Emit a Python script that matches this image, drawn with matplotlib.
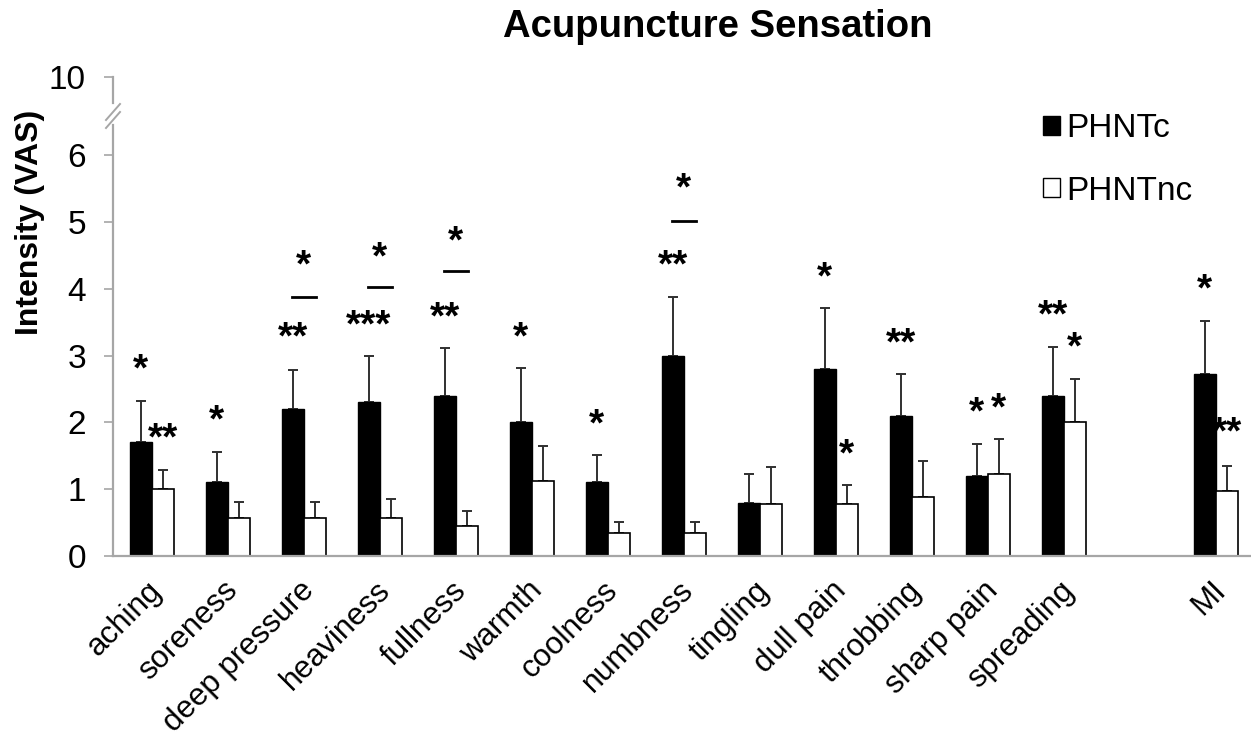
import numpy as np
import matplotlib.pyplot as plt
import matplotlib.transforms as mtransforms
from matplotlib.lines import Line2D
from matplotlib.patches import Patch

plt.rcParams['font.family'] = ['Liberation Sans', 'DejaVu Sans']

categories = ['aching', 'soreness', 'deep pressure', 'heaviness', 'fullness',
              'warmth', 'coolness', 'numbness', 'tingling', 'dull pain',
              'throbbing', 'sharp pain', 'spreading', 'MI']
positions = [0, 1, 2, 3, 4, 5, 6, 7, 8, 9, 10, 11, 12, 14]

phntc = [1.70, 1.10, 2.20, 2.30, 2.40, 2.00, 1.10, 3.00, 0.80, 2.80, 2.10, 1.20, 2.40, 2.72]
phntc_err = [0.62, 0.46, 0.58, 0.69, 0.71, 0.82, 0.41, 0.88, 0.43, 0.91, 0.63, 0.48, 0.73, 0.80]
phntnc = [1.00, 0.57, 0.57, 0.57, 0.45, 1.12, 0.34, 0.34, 0.78, 0.78, 0.89, 1.23, 2.00, 0.97]
phntnc_err = [0.29, 0.24, 0.24, 0.28, 0.23, 0.53, 0.17, 0.17, 0.55, 0.28, 0.53, 0.52, 0.65, 0.38]

# significance marks: (category index, which bar, text, y of glyph centre)
stars = [(0, 'c', '*', 2.86), (0, 'nc', '**', 1.84),
         (1, 'c', '*', 2.11),
         (2, 'c', '**', 3.34), (2, 'mid', '*', 4.43),
         (3, 'c', '***', 3.53), (3, 'mid', '*', 4.54),
         (4, 'c', '**', 3.64), (4, 'mid', '*', 4.78),
         (5, 'c', '*', 3.35),
         (6, 'c', '*', 2.04),
         (7, 'c', '**', 4.43), (7, 'mid', '*', 5.58),
         (9, 'c', '*', 4.25), (9, 'nc', '*', 1.59),
         (10, 'c', '**', 3.26),
         (11, 'c', '*', 2.22), (11, 'nc', '*', 2.29),
         (12, 'c', '**', 3.67), (12, 'nc', '*', 3.19),
         (13, 'c', '*', 4.06), (13, 'nc', '**', 1.92)]
# short bars marking the between-group comparison
dash_lines = [(2, 3.88), (3, 4.03), (4, 4.27), (7, 5.02)]

grey = '#a6a6a6'
W, H = 1251, 737
fig = plt.figure(figsize=(W / 100, H / 100), dpi=100)

ax = fig.add_axes([113 / W, (H - 556) / H, 1137 / W, (556 - 125) / H])
ax_top = fig.add_axes([113 / W, (H - 103) / H, 1137 / W, 26 / H])

x = np.array(positions, dtype=float)
w = 0.29
ax.bar(x - w / 2, phntc, w, color='black', edgecolor='black', linewidth=1.0, zorder=2)
ax.bar(x + w / 2, phntnc, w, color='white', edgecolor='black', linewidth=1.2, zorder=2)
ax.errorbar(x - w / 2, phntc, yerr=[np.zeros(len(x)), phntc_err], fmt='none',
            ecolor='#303030', elinewidth=1.4, capsize=3.8, capthick=1.4, zorder=1)
ax.errorbar(x + w / 2, phntnc, yerr=[np.zeros(len(x)), phntnc_err], fmt='none',
            ecolor='#303030', elinewidth=1.4, capsize=3.8, capthick=1.4, zorder=1)

star_off = 0.09
for i, which, txt, yv in stars:
    if which == 'c':
        xs = x[i] - w / 2
    elif which == 'nc':
        xs = x[i] + w / 2
    else:
        xs = x[i]
    ax.text(xs, yv - star_off, txt, ha='center', va='center', fontsize=28,
            fontweight='bold', color='black')
for i, yv in dash_lines:
    ax.plot([x[i] - 0.16, x[i] + 0.16], [yv, yv], color='black', lw=2.0)

ax.set_xlim(-0.51, 14.45)
ax.set_ylim(0, 6.45)
ax.set_yticks([0, 1, 2, 3, 4, 5, 6])
ax.set_xticks(x)
ax.set_xticklabels(categories, rotation=45, ha='right', rotation_mode='anchor',
                   fontsize=22.5)
ax.tick_params(axis='x', length=0, pad=14)
shift = mtransforms.ScaledTranslation(-5 / 100, 0, fig.dpi_scale_trans)
for lab in ax.get_xticklabels():
    lab.set_transform(lab.get_transform() + shift)
ax.tick_params(axis='y', length=6.5, width=1.2, color=grey, labelsize=24, pad=13)
for s in ['top', 'right']:
    ax.spines[s].set_visible(False)
for s in ['left', 'bottom']:
    ax.spines[s].set_color(grey)
    ax.spines[s].set_linewidth(1.6)
ax.set_ylabel('Intensity (VAS)', fontsize=23, fontweight='bold')
ax.yaxis.set_label_coords(-0.0595, 0.775)

ax_top.set_xlim(-0.51, 14.45)
ax_top.set_ylim(9.6, 10.0)
ax_top.set_yticks([10])
ax_top.set_xticks([])
ax_top.tick_params(axis='y', length=6.5, width=1.2, color=grey, labelsize=24, pad=13)
for s in ['top', 'right', 'bottom']:
    ax_top.spines[s].set_visible(False)
ax_top.spines['left'].set_color(grey)
ax_top.spines['left'].set_linewidth(1.6)
ax_top.patch.set_alpha(0)

# break marks
for dy in (0, 8):
    fig.add_artist(Line2D([106 / W, 120 / W], [(H - 120 - dy) / H, (H - 104 - dy) / H],
                          color=grey, lw=1.4))

fig.text(718 / W, 1 - 37 / H, 'Acupuncture Sensation', ha='center', va='baseline',
         fontsize=27.5, fontweight='bold')

handles = [Patch(facecolor='black', edgecolor='black'),
           Patch(facecolor='white', edgecolor='black')]
fig.legend(handles, ['PHNTc', 'PHNTnc'], loc='upper left',
           bbox_to_anchor=(1013 / W, 1 - 83 / H), frameon=False, fontsize=24,
           handlelength=0.5, handleheight=0.5, handletextpad=0.2,
           labelspacing=0.95)

fig.savefig('out.png', dpi=100)
